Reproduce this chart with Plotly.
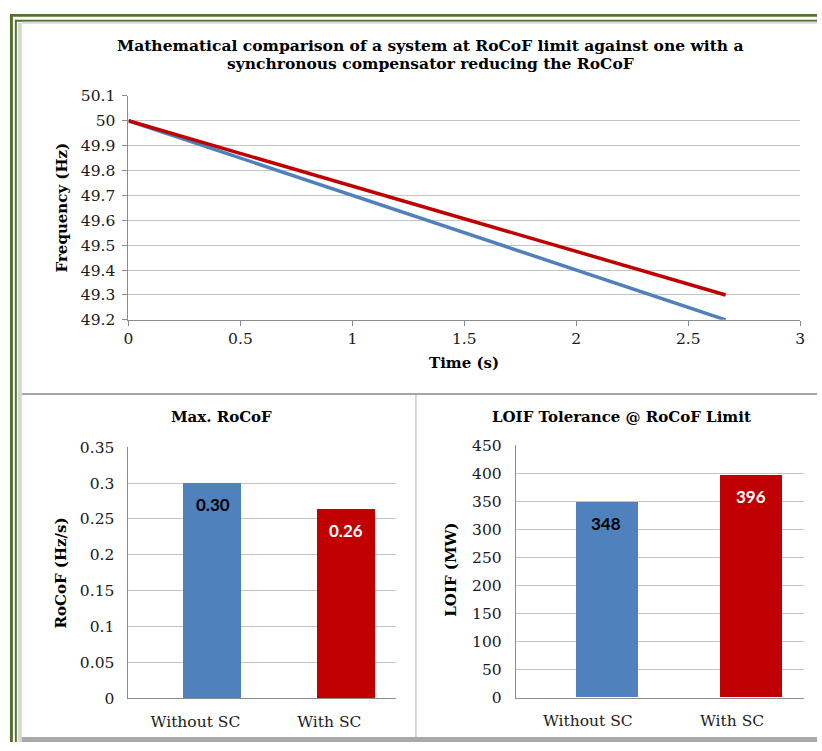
import plotly.graph_objects as go

# ---- data ----
time_s = [0, 2.667]
freq_without_sc = [50.0, 49.2]
freq_with_sc = [50.0, 49.3]

categories = ["Without SC", "With SC"]
max_rocof = [0.30, 0.263]
loif_tolerance = [348, 396]

freq_ticks = [49.2, 49.3, 49.4, 49.5, 49.6, 49.7, 49.8, 49.9, 50, 50.1]
freq_ticktext = ["49.2", "49.3", "49.4", "49.5", "49.6", "49.7", "49.8", "49.9", "50", "50.1"]
time_ticks = [0, 0.5, 1, 1.5, 2, 2.5, 3]
rocof_ticks = [0, 0.05, 0.1, 0.15, 0.2, 0.25, 0.3, 0.35]
loif_ticks = [0, 50, 100, 150, 200, 250, 300, 350, 400, 450]

BLUE = "#4F81BD"
RED = "#C00000"
GRID = "#C4C4C4"
AXIS = "#8C8C8C"
SERIF = "DejaVu Serif"
W, H = 822, 751

def px(x):
    return x / W

def py(y):
    return 1 - y / H

fig = go.Figure()

# line chart
fig.add_trace(go.Scatter(x=time_s, y=freq_without_sc, mode="lines",
                         line=dict(color=BLUE, width=3.5), xaxis="x", yaxis="y",
                         showlegend=False))
fig.add_trace(go.Scatter(x=time_s, y=freq_with_sc, mode="lines",
                         line=dict(color=RED, width=3.5), xaxis="x", yaxis="y",
                         showlegend=False))

bar_w = 0.43
bar_off = -0.087
cat_pos = list(range(len(categories)))
colors = [BLUE, RED]
label_colors = ["#000000", "#FFFFFF"]

fig.add_trace(go.Bar(x=cat_pos, y=max_rocof, width=bar_w, offset=bar_off,
                     marker=dict(color=colors, line=dict(width=0)),
                     xaxis="x2", yaxis="y2", showlegend=False))
fig.add_trace(go.Bar(x=cat_pos, y=loif_tolerance, width=bar_w, offset=bar_off,
                     marker=dict(color=colors, line=dict(width=0)),
                     xaxis="x3", yaxis="y3", showlegend=False))

tickfont = dict(family=SERIF, size=15.5, color="#1a1a1a")

fig.update_layout(
    width=W, height=H, margin=dict(l=0, r=0, t=0, b=0),
    paper_bgcolor="white", plot_bgcolor="rgba(0,0,0,0)",
    xaxis=dict(domain=[px(125), px(805)], range=[0, 3], tickvals=time_ticks,
               ticktext=["0", "0.5", "1", "1.5", "2", "2.5", "3"],
               showgrid=False, showline=True, linecolor=AXIS, linewidth=1,
               ticks="outside", ticklen=5, tickcolor=AXIS, tickfont=tickfont,
               anchor="y", zeroline=False),
    yaxis=dict(domain=[py(318.5), py(89)], range=[49.2, 50.1], tickvals=freq_ticks,
               ticktext=freq_ticktext, showgrid=True, gridcolor=GRID, gridwidth=1,
               showline=True, linecolor=AXIS, linewidth=1, ticks="outside", ticklen=5,
               tickcolor=AXIS, tickfont=tickfont, anchor="x", zeroline=False,
               ticklabelstandoff=4),
    xaxis2=dict(domain=[px(125), px(396)], range=[-0.5, 1.5], tickvals=cat_pos,
                ticktext=categories, showgrid=False, showline=True, linecolor=AXIS,
                ticks="", tickfont=tickfont, anchor="y2", zeroline=False,
                ticklabelstandoff=9),
    yaxis2=dict(domain=[py(706), py(449)], range=[0, 0.35], tickvals=rocof_ticks,
                ticktext=["0", "0.05", "0.1", "0.15", "0.2", "0.25", "0.3", "0.35"],
                showgrid=True, gridcolor=GRID, showline=True, linecolor=AXIS,
                ticks="", tickfont=tickfont, anchor="x2", zeroline=False,
                ticklabelstandoff=10),
    xaxis3=dict(domain=[px(517), px(809)], range=[-0.5, 1.5], tickvals=cat_pos,
                ticktext=categories, showgrid=False, showline=True, linecolor=AXIS,
                ticks="", tickfont=tickfont, anchor="y3", zeroline=False,
                ticklabelstandoff=9),
    yaxis3=dict(domain=[py(705.5), py(447)], range=[0, 450], tickvals=loif_ticks,
                showgrid=True, gridcolor=GRID, showline=True, linecolor=AXIS,
                ticks="", tickfont=tickfont, anchor="x3", zeroline=False,
                ticklabelstandoff=10),
    bargap=0,
)

# data labels
for i, v in enumerate(max_rocof):
    fig.add_annotation(x=cat_pos[i] + bar_off + bar_w / 2, y=v, xref="x2", yref="y2",
                       text=f"<b>{v:.2f}</b>", showarrow=False, yshift=-21,
                       font=dict(family="Lato", size=17, color=label_colors[i]))
for i, v in enumerate(loif_tolerance):
    fig.add_annotation(x=cat_pos[i] + bar_off + bar_w / 2, y=v, xref="x3", yref="y3",
                       text=f"<b>{v:d}</b>", showarrow=False, yshift=-21,
                       font=dict(family="Lato", size=17, color=label_colors[i]))

def ann(text, x, y, size=15, angle=0):
    fig.add_annotation(text=text, x=px(x), y=py(y), xref="paper", yref="paper",
                       showarrow=False, textangle=angle, xanchor="center", yanchor="middle",
                       font=dict(family=SERIF, size=size, color="#000000"))

ann("<b>Mathematical comparison of a system at RoCoF limit against one with a</b>", 431, 37, size=15.5)
ann("<b>synchronous compensator reducing the RoCoF</b>", 431, 56, size=15.5)
ann("<b>Time (s)</b>", 465, 363)
ann("<b>Frequency (Hz)</b>", 58, 203, angle=-90)
ann("<b>Max. RoCoF</b>", 219, 418)
ann("<b>LOIF Tolerance @ RoCoF Limit</b>", 624, 418)
ann("<b>RoCoF (Hz/s)</b>", 57, 578, angle=-90)
ann("<b>LOIF (MW)</b>", 452, 575, angle=-90)

# frames
GREEN = "#55702F"
shapes = []
def rect(x0, y0, x1, y1, color):
    shapes.append(dict(type="rect", xref="paper", yref="paper", x0=px(x0), x1=px(x1),
                       y0=py(y1), y1=py(y0), fillcolor=color, line=dict(width=0),
                       layer="above"))
def line(x0, y0, x1, y1, color, w=1):
    shapes.append(dict(type="line", xref="paper", yref="paper", x0=px(x0), x1=px(x1),
                       y0=py(y0), y1=py(y1), line=dict(color=color, width=w),
                       layer="above"))

rect(5, 5, 822, 8, GREEN)
rect(5, 5, 8, 751, GREEN)
rect(10, 11, 822, 13, GREEN)
rect(10, 11, 12, 751, GREEN)
rect(13, 14, 17, 751, "#D6D6D6")
rect(17, 13, 822, 15, "#D9D9D9")
line(17, 394.5, 822, 394.5, "#A6A6A6", 2)
line(416, 395, 416, 747, "#B0B0B0", 1)
rect(17, 746, 822, 751, "#A8A8A8")
fig.update_layout(shapes=shapes)

fig.write_html("out.html")
